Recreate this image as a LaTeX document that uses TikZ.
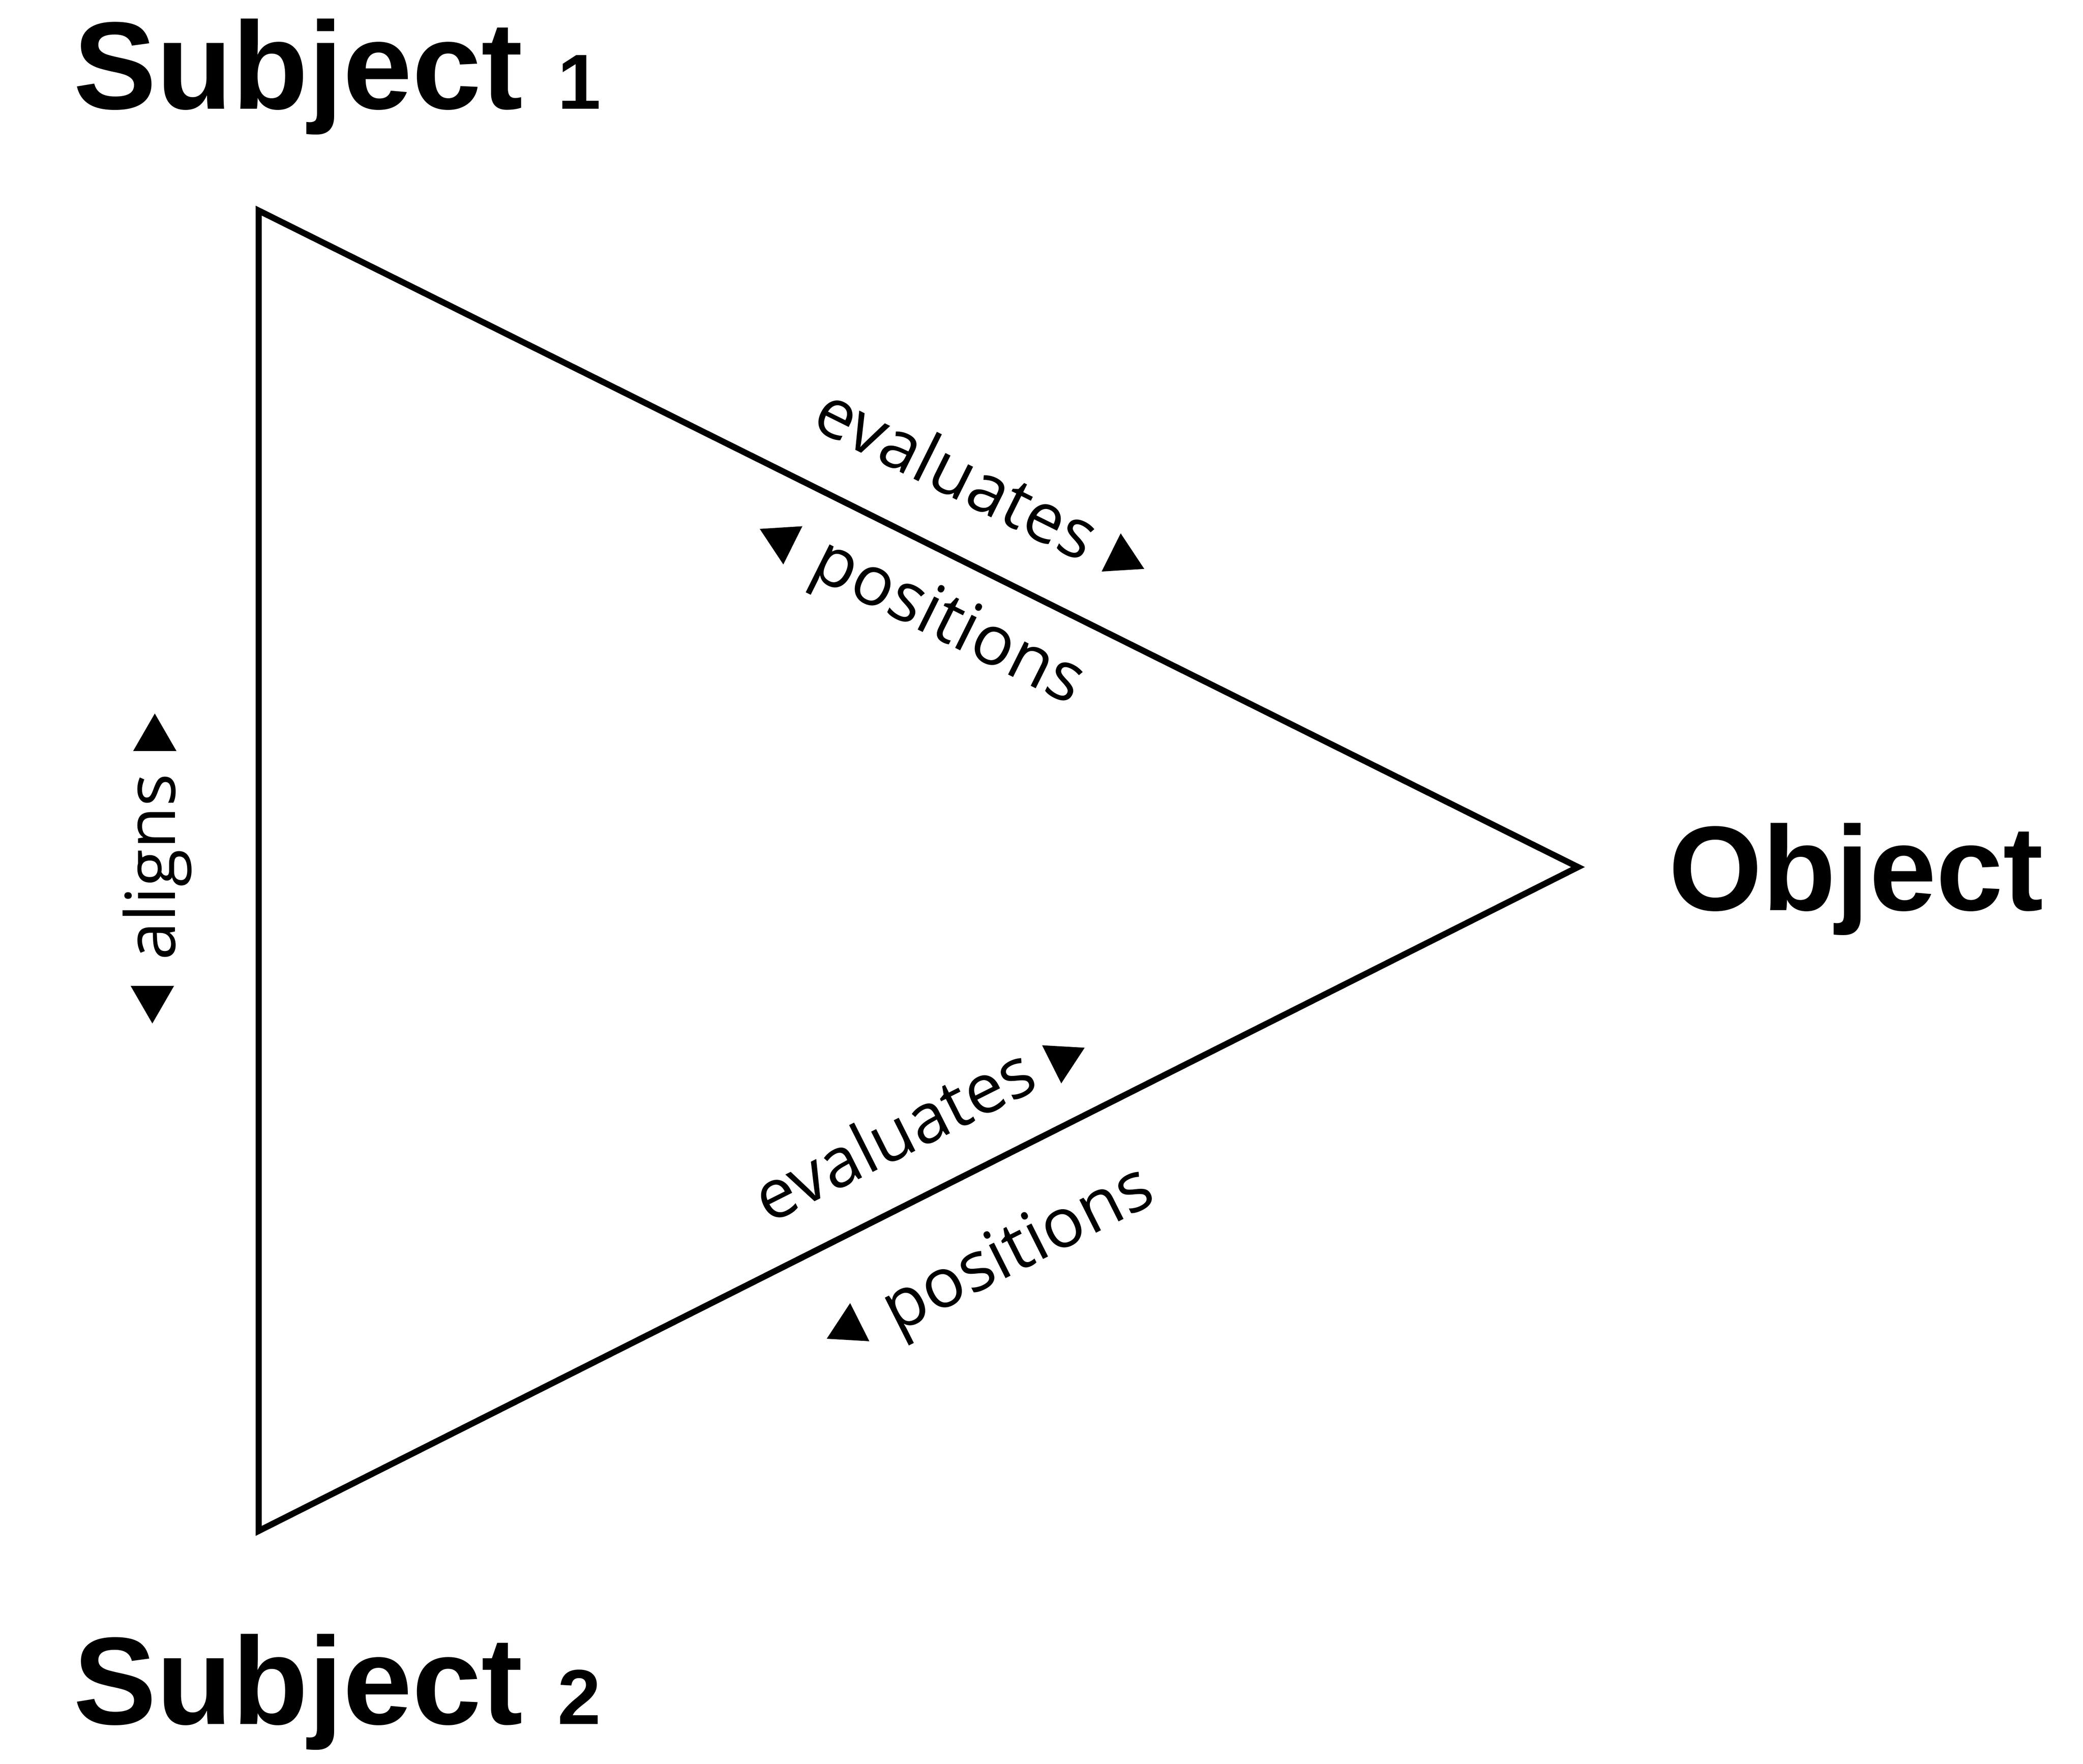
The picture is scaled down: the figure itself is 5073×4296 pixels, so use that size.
\documentclass[tikz,border=0pt]{standalone}
\usepackage{fontspec}
\newfontfamily\lblfont{Open Sans}
\newfontfamily\headfont{Liberation Sans}
\newcommand\subsz{\fontsize{54pt}{56pt}\selectfont}
\tikzset{
  edge/.style={line width=4.27pt, line join=miter},
  head/.style={inner sep=0pt, anchor=base west, font=\headfont\bfseries\fontsize{86.2pt}{90pt}\selectfont},
  lbl/.style={inner sep=0pt, anchor=base, font=\lblfont\fontsize{47.8pt}{50pt}\selectfont},
  marker/.style={fill=black}
}
\begin{document}
\begin{tikzpicture}[x=0.01cm,y=-0.01cm]
\useasboundingbox (0,0) rectangle (5073,4296);
% triangle corners
\coordinate (S1) at (630,513);
\coordinate (S2) at (630,3729);
\coordinate (O) at (3843,2112);
\draw[edge] (S1) -- (O) -- (S2) -- cycle;
% headings
\node[head] (subj1) at (178,265) {Subject {\subsz 1}};
\node[head] (subj2) at (178,4200) {Subject {\subsz 2}};
\node[head, font=\headfont\bfseries\fontsize{83.4pt}{88pt}\selectfont] (obj) at (4063,2217) {Object};
% edge labels
\node[lbl, rotate=-26.46] (ev1) at (2303.9,1205.4) {evaluates};
\node[lbl, rotate=-26.46] (po1) at (2287.6,1559.2) {positions};
\node[lbl, rotate=26.7] (ev2) at (2203.7,2816.2) {evaluates};
\node[lbl, rotate=26.7] (po2) at (2501.4,3087.4) {positions};
\node[lbl, rotate=90] (al) at (427,2112) {aligns};
% direction markers
\fill[marker, shift={(2733,1359)}] (26.46:60) -- (146.46:60) -- (266.46:60) -- cycle;
\fill[marker, shift={(1904,1315)}] (206.46:60) -- (326.46:60) -- (86.46:60) -- cycle;
\fill[marker, shift={(2588,2579)}] (-26.7:60) -- (93.3:60) -- (213.3:60) -- cycle;
\fill[marker, shift={(2067,3234)}] (153.3:60) -- (273.3:60) -- (33.3:60) -- cycle;
\fill[marker, shift={(377,1799)}] (-90:61) -- (30:61) -- (150:61) -- cycle;
\fill[marker, shift={(371,2432)}] (90:61) -- (210:61) -- (330:61) -- cycle;
\end{tikzpicture}
\end{document}
